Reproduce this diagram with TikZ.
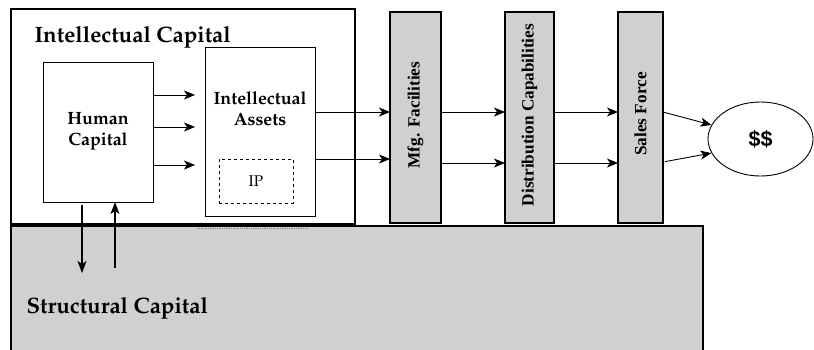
\documentclass[tikz,border=0pt]{standalone}
\usepackage[T1]{fontenc}
\usepackage{fontspec}
\newfontfamily\timesf{Liberation Serif}
\newfontfamily\arialf{Liberation Sans}
\newcommand\palf{\fontencoding{T1}\fontfamily{ppl}\selectfont}
\usetikzlibrary{arrows.meta,shapes.geometric}
\definecolor{boxgray}{RGB}{208,208,208}
\tikzset{
  box/.style={draw, inner sep=0pt, outer sep=0pt, anchor=north west},
  thinbox/.style={box, line width=0.9pt},
  column/.style={box, fill=boxgray, line width=2pt},
  flow/.style={-{Stealth[length=11pt,width=9pt,inset=3pt]}, line width=0.9pt},
  vflow/.style={-{Stealth[length=12pt,width=9pt,inset=3pt]}, line width=1.6pt},
  collabel/.style={rotate=90, font=\timesf\bfseries\fontsize{17.2}{19}\selectfont},
  bigtitle/.style={anchor=base west, font=\palf\bfseries\fontsize{22.3}{26}\selectfont},
  midtext/.style={align=center, font=\palf\bfseries\fontsize{17.8}{21}\selectfont}
}
\begin{document}
\begin{tikzpicture}[x=1pt,y=-1pt]
\useasboundingbox (0,0) rectangle (814,349);
\clip (0,0) rectangle (814,349);
% structural capital
\node[box, fill=boxgray, line width=2pt, minimum width=692pt, minimum height=160pt] (sc) at (11,226) {};
\node[bigtitle] (sctitle) at (23,313) {Structural Capital};
% intellectual capital
\node[box, line width=2pt, minimum width=344pt, minimum height=215pt] (ic) at (11,9) {};
\node[bigtitle] (ictitle) at (31,42) {Intellectual Capital};
\draw[gray, line width=0.8pt, densely dotted] (197,228.5) -- (308,228.5);
% human capital
\node[thinbox, minimum width=110pt, minimum height=140pt] (hc) at (43,62) {};
\node[midtext] (hct) at (98,131) {Human\\Capital};
% intellectual assets
\node[thinbox, minimum width=110pt, minimum height=169pt] (ia) at (205,47) {};
\node[midtext] (iat) at (260,109) {Intellectual\\Assets};
\node[box, dashed, line width=0.9pt, minimum width=74pt, minimum height=44pt] (ip) at (219,159) {};
\node[font=\palf\fontsize{15.5}{18}\selectfont] (ipt) at (ip.center) {IP};
% columns
\node[column, minimum width=51pt, minimum height=211pt] (mfg) at (390,12) {};
\node[column, minimum width=49pt, minimum height=211pt] (dist) at (505,12) {};
\node[column, minimum width=45pt, minimum height=211pt] (sales) at (618,12) {};
\node[collabel] (mfgt) at (415.5,115) {Mfg. Facilities};
\node[collabel] (distt) at (529.5,115) {Distribution Capabilities};
\node[collabel] (salest) at (640.5,114) {Sales Force};
% money
\node[draw, ellipse, line width=0.9pt, minimum width=105pt, minimum height=74pt, inner sep=0pt] (money) at (760.5,139) {};
\node[font=\arialf\bfseries\fontsize{21.5}{24}\selectfont] (moneyt) at (money.center) {\$\$};
% arrows human -> assets
\foreach \yy in {95,127,165}
  \draw[flow, shorten >=10pt] (hc.east |- 0,\yy) -- (ia.west |- 0,\yy);
% assets -> mfg
\draw[flow] (ia.east |- 0,112) -- (mfg.west |- 0,112);
\draw[flow] (ia.east |- 0,159) -- (mfg.west |- 0,159);
% mfg -> dist -> sales
\draw[flow] (mfg.east |- 0,112) -- (dist.west |- 0,112);
\draw[flow] (mfg.east |- 0,163) -- (dist.west |- 0,163);
\draw[flow] (dist.east |- 0,112) -- (sales.west |- 0,112);
\draw[flow] (dist.east |- 0,163) -- (sales.west |- 0,163);
% sales -> money
\draw[flow, shorten <=1pt] (sales.east |- 0,112) -- (money.164);
\draw[flow, shorten <=2pt] (sales.east |- 0,162) -- (money.196);
% vertical exchange
\coordinate (downend) at (82,273);
\coordinate (upstart) at (115,268);
\draw[vflow, shorten <=3pt] (hc.south -| downend) -- (downend);
\draw[vflow] (upstart) -- (hc.south -| upstart);
\end{tikzpicture}
\end{document}
